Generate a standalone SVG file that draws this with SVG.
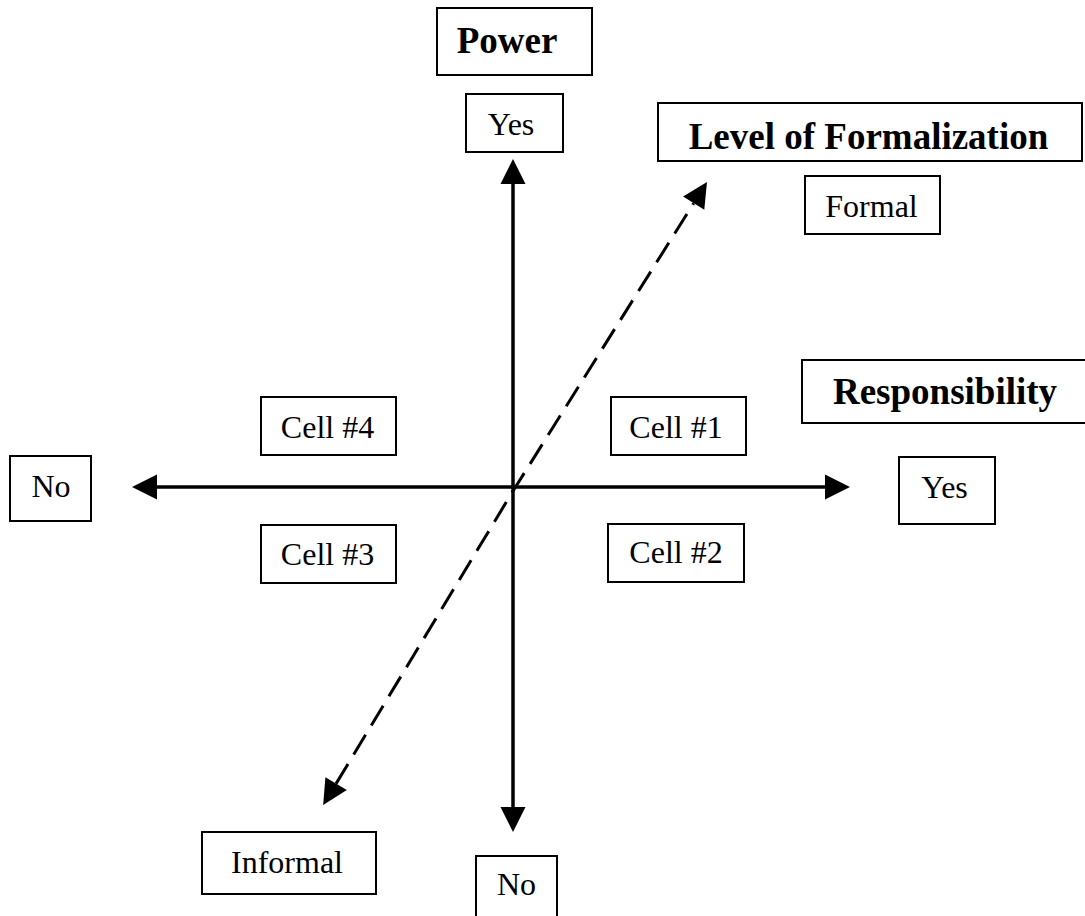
<svg xmlns="http://www.w3.org/2000/svg" width="1085" height="916" viewBox="0 0 1085 916">
<style>
.box{fill:#fff;stroke:#000;stroke-width:2}
.t{font-family:"Liberation Serif","Times New Roman",serif;font-size:32px;fill:#000;text-anchor:middle}
.b{font-weight:bold;font-size:37px}
.axis{fill:none;stroke:#000;stroke-width:3.5;marker-start:url(#ah);marker-end:url(#ah)}
.dash{fill:none;stroke:#000;stroke-width:3;stroke-dasharray:23 11;marker-start:url(#ah);marker-end:url(#ah)}
</style>
<defs>
<marker id="ah" markerUnits="userSpaceOnUse" markerWidth="26" markerHeight="26" refX="0" refY="12.5" orient="auto-start-reverse" overflow="visible">
<path d="M0,0 L25,12.5 L0,25 Z" fill="#000"/>
</marker>
</defs>
<rect width="1085" height="916" fill="#fff"/>
<g id="connectors">
<path class="axis" d="M513,184 L513,807"/>
<path class="axis" d="M157,487 L825,487"/>
<path class="dash" d="M336.1,783.6 L513,491 L693.7,203.2"/>
</g>
<g id="power"><rect class="box" x="437" y="8" width="155" height="67"/><text class="t b" x="507" y="53">Power</text></g>
<g id="power-yes"><rect class="box" x="466" y="94" width="97" height="58"/><text class="t" x="511" y="135">Yes</text></g>
<g id="formalization"><rect class="box" x="658" y="103" width="424" height="58"/><text class="t b" x="868.5" y="149">Level of Formalization</text></g>
<g id="formal"><rect class="box" x="805" y="176" width="135" height="58"/><text class="t" x="871.5" y="217">Formal</text></g>
<g id="responsibility"><rect class="box" x="802" y="360" width="290" height="63"/><text class="t b" x="945" y="404">Responsibility</text></g>
<g id="resp-yes"><rect class="box" x="899" y="457" width="96" height="67"/><text class="t" x="944.5" y="498">Yes</text></g>
<g id="resp-no"><rect class="box" x="10" y="456" width="81" height="65"/><text class="t" x="51" y="497">No</text></g>
<g id="cell4"><rect class="box" x="261" y="397" width="135" height="58"/><text class="t" x="327.5" y="438">Cell #4</text></g>
<g id="cell3"><rect class="box" x="261" y="525" width="135" height="58"/><text class="t" x="327.5" y="565">Cell #3</text></g>
<g id="cell1"><rect class="box" x="611" y="397" width="135" height="58"/><text class="t" x="676" y="438">Cell #1</text></g>
<g id="cell2"><rect class="box" x="608" y="524" width="136" height="58"/><text class="t" x="676" y="563">Cell #2</text></g>
<g id="informal"><rect class="box" x="202" y="832" width="174" height="62"/><text class="t" x="287" y="873">Informal</text></g>
<g id="power-no"><rect class="box" x="476" y="856" width="81" height="70"/><text class="t" x="516.5" y="895">No</text></g>
</svg>
